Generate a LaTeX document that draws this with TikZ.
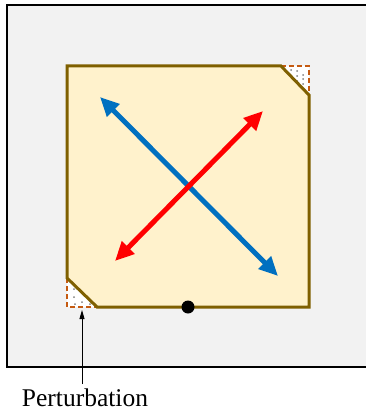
\documentclass[tikz,border=0pt]{standalone}
\usepackage{fontspec}
\setmainfont{Liberation Serif}
\usetikzlibrary{arrows.meta}
\definecolor{bgfill}{HTML}{F2F2F2}
\definecolor{sqfill}{HTML}{FFF2CC}
\definecolor{sqline}{HTML}{7F6000}
\definecolor{arrblue}{HTML}{0070C0}
\definecolor{arrred}{HTML}{FF0000}
\definecolor{cutline}{HTML}{C55A11}
\tikzset{
  bigarrow/.style={line width=5pt,{Triangle[length=19pt,width=17pt]}-{Triangle[length=19pt,width=17pt]}},
  cutedge/.style={cutline,line width=1.6pt,dash pattern=on 5pt off 3pt},
}
\begin{document}
\begin{tikzpicture}[x=1pt,y=-1pt]
\useasboundingbox (0,0) rectangle (366,412);
% background panel
\fill[bgfill] (7,5) rectangle (366,367);
\draw[line width=1.3pt] (367,367) -- (7,367) -- (7,5) -- (367,5);
% cut corner triangles
\fill[white] (281,66) -- (309,66) -- (309,95) -- cycle;
\fill[white] (67,278) -- (67,307) -- (97,307) -- cycle;
\foreach \p in {(297,71),(303,75),(297,76),(303,79),(297,81),(303,84),(291,70)}
  \fill[gray] \p circle (1pt);
\foreach \p in {(74,289),(74,297),(75,304),(82,302),(90,304)}
  \fill[gray] \p circle (1pt);
\draw[cutedge] (281,66) -- (309,66) -- (309,95);
\draw[cutedge] (67,278) -- (67,307) -- (97,307);
% main square with cut corners
\draw[fill=sqfill,draw=sqline,line width=3pt,line join=miter]
  (67,66) -- (281,66) -- (309,95) -- (309,307) -- (97,307) -- (67,278) -- cycle;
% arrows
\coordinate (b1) at (100,97);
\coordinate (b2) at (278,276);
\coordinate (r1) at (263,111);
\coordinate (r2) at (115,261);
\draw[bigarrow,arrblue] (b1) -- (b2);
\draw[bigarrow,arrred] (r2) -- (r1);
% dot
\fill (188,307) circle (6.5pt);
% perturbation label
\node[font=\fontsize{25.5}{28}\selectfont,inner sep=0pt] (lab) at (85,398) {Perturbation};
\coordinate (ptip) at (82,310);
\draw[line width=0.8pt,-{Triangle[length=9pt,width=5pt]}] (82,384) -- (ptip);
\end{tikzpicture}
\end{document}
